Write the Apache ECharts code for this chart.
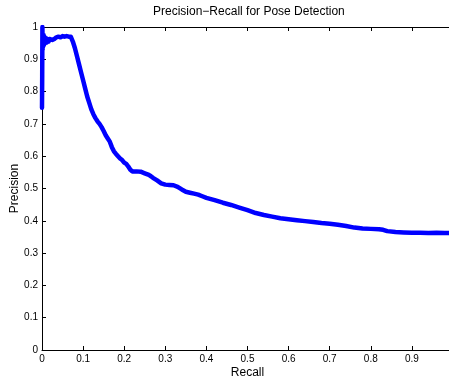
<!DOCTYPE html>
<html><head><meta charset="utf-8">
<script src="https://cdn.jsdelivr.net/npm/echarts@6/dist/echarts.min.js"></script>
<style>html,body{margin:0;padding:0;background:#fff}#c{width:449px;height:380px}</style>
</head><body><div id="c"></div>
<script>
var titleText = 'Precision\u2212Recall for Pose Detection';
var xName = 'Recall';
var yName = 'Precision';
var recall = [0, 0.0005, 0.001, 0.0015, 0.002, 0.003, 0.004, 0.005, 0.006, 0.008, 0.01, 0.012, 0.014, 0.016, 0.018, 0.02, 0.022, 0.025, 0.028, 0.03, 0.035, 0.04, 0.045, 0.05, 0.055, 0.06, 0.065, 0.07,
  0.075, 0.08, 0.085, 0.09, 0.095, 0.1, 0.105, 0.11, 0.115, 0.12, 0.125, 0.13, 0.135, 0.14, 0.145, 0.15, 0.155, 0.16, 0.165, 0.17, 0.175, 0.18, 0.185, 0.19, 0.195, 0.2, 0.205, 0.21, 0.215, 0.22,
  0.23, 0.24, 0.25, 0.26, 0.265, 0.27, 0.28, 0.29, 0.3, 0.31, 0.32, 0.33, 0.34, 0.35, 0.36, 0.37, 0.38, 0.39, 0.4, 0.42, 0.44, 0.46, 0.48, 0.5, 0.52, 0.54, 0.56, 0.58, 0.6, 0.62, 0.64, 0.66, 0.68, 0.7,
  0.72, 0.74, 0.76, 0.78, 0.8, 0.82, 0.83, 0.84, 0.86, 0.88, 0.9, 0.92, 0.94, 0.96, 0.98, 1.0];
var precision = [0.75, 0.85, 1.0, 0.93, 0.97, 0.94, 0.975, 0.945, 0.97, 0.95, 0.965, 0.952, 0.962, 0.955, 0.963, 0.958, 0.962, 0.96, 0.965, 0.963, 0.968, 0.97, 0.968, 0.972, 0.97, 0.972, 0.97, 0.97,
  0.955, 0.935, 0.91, 0.885, 0.86, 0.835, 0.81, 0.785, 0.765, 0.745, 0.73, 0.718, 0.708, 0.7, 0.69, 0.678, 0.665, 0.655, 0.645, 0.628, 0.615, 0.607, 0.6, 0.593, 0.588, 0.58, 0.576, 0.568, 0.558, 0.553,
  0.553, 0.552, 0.547, 0.542, 0.538, 0.533, 0.525, 0.516, 0.512, 0.511, 0.51, 0.505, 0.497, 0.49, 0.487, 0.484, 0.481, 0.476, 0.471, 0.464, 0.456, 0.449, 0.441, 0.433, 0.424, 0.418, 0.413, 0.408, 0.405, 0.402, 0.399, 0.396, 0.393, 0.391,
  0.388, 0.384, 0.379, 0.376, 0.375, 0.374, 0.372, 0.368, 0.365, 0.364, 0.363, 0.363, 0.362, 0.363, 0.362, 0.362];

var pts = recall.map(function (r, i) { return [r, precision[i]]; });
var font = 'Liberation Sans, Arial, Helvetica, sans-serif';
var chart = echarts.init(document.getElementById('c'), null, {renderer: 'canvas'});
function fmt(v) { return v === 0 ? '0' : (v === 1 ? '1' : v.toFixed(1)); }
var baseAxis = {
  min: 0, max: 1, interval: 0.1, type: 'value',
  axisLine: {show: true, onZero: false, lineStyle: {color: '#000', width: 1}},
  axisTick: {show: true, inside: true, length: 4, lineStyle: {color: '#000'}},
  splitLine: {show: false}
};
chart.setOption({
  animation: false,
  backgroundColor: '#fff',
  title: {text: titleText, left: 148, top: 1, textStyle: {fontFamily: font, fontSize: 12, fontWeight: 'normal', color: '#000'}},
  grid: {left: 42, top: 27, width: 411, height: 323, containLabel: false, outerBoundsMode: 'none'},
  xAxis: [
    Object.assign({}, baseAxis, {position: 'bottom', name: xName, nameLocation: 'middle', nameGap: 17, nameMoveOverlap: false,
      nameTextStyle: {fontFamily: font, fontSize: 12, color: '#000'},
      axisLabel: {show: true, margin: 4, fontFamily: font, fontSize: 10, color: '#000', formatter: fmt}}),
    Object.assign({}, baseAxis, {position: 'top', axisLabel: {show: false}})
  ],
  yAxis: [
    Object.assign({}, baseAxis, {position: 'left', name: yName, nameLocation: 'middle', nameGap: 21, nameMoveOverlap: false,
      nameTextStyle: {fontFamily: font, fontSize: 12, color: '#000'},
      axisLabel: {show: true, margin: 4, fontFamily: font, fontSize: 10, color: '#000', formatter: fmt}}),
    Object.assign({}, baseAxis, {position: 'right', axisLabel: {show: false}})
  ],
  series: [{
    type: 'line', data: pts, showSymbol: false, symbol: 'none', clip: true,
    lineStyle: {color: '#0000ff', width: 4.5, join: 'round', cap: 'round'}
  }]
});
</script></body></html>
